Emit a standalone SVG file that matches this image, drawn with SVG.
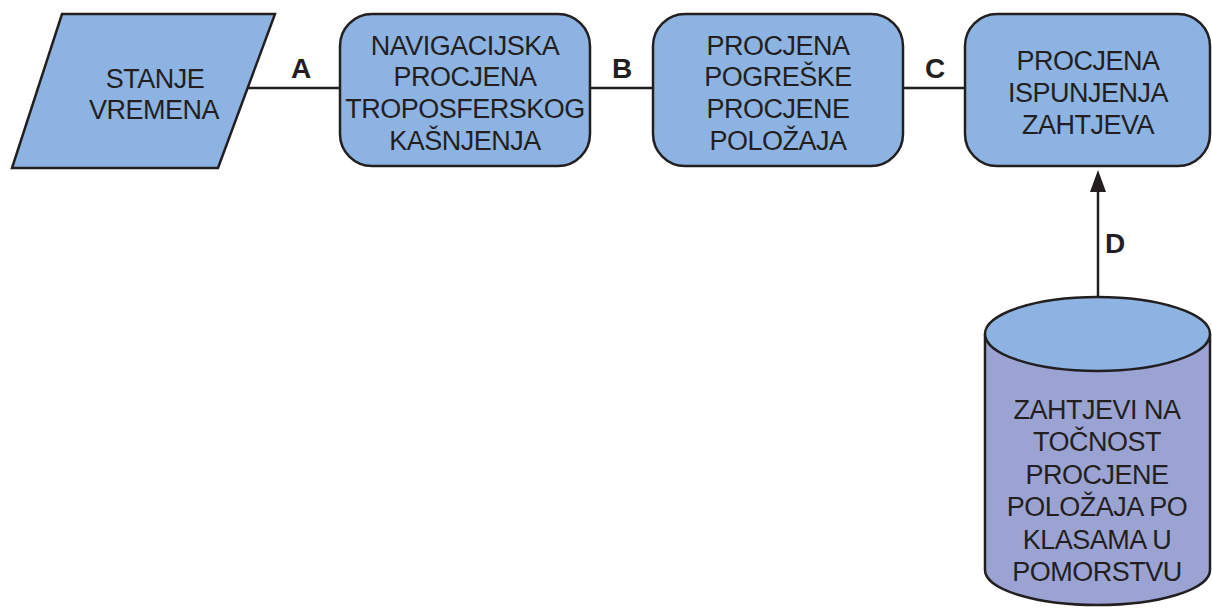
<svg xmlns="http://www.w3.org/2000/svg" width="1212" height="608" viewBox="0 0 1212 608">
<defs>
<style>
.shape{fill:#8db3e2;stroke:#231f20;stroke-width:2.5}
.body{fill:#9ba3d3;stroke:#231f20;stroke-width:2.5}
.t{font-family:"Liberation Sans",Arial,sans-serif;font-size:27px;letter-spacing:-0.5px;fill:#231f20;text-anchor:middle}
.lbl{font-family:"Liberation Sans",Arial,sans-serif;font-size:28px;font-weight:bold;fill:#231f20;text-anchor:middle}
.con{stroke:#231f20;stroke-width:2.5;fill:none}
</style>
</defs>
<rect width="1212" height="608" fill="#ffffff"/>
<g id="connectors">
<line class="con" x1="245" y1="88" x2="340" y2="88"/>
<line class="con" x1="590" y1="88" x2="653" y2="88"/>
<line class="con" x1="903" y1="88" x2="965" y2="88"/>
<line class="con" x1="1098" y1="297" x2="1098" y2="190"/>
<path d="M1098,170 L1106,192 L1090,192 Z" fill="#231f20"/>
<text class="lbl" x="301" y="78">A</text>
<text class="lbl" x="622" y="78">B</text>
<text class="lbl" x="935" y="78">C</text>
<text class="lbl" x="1115" y="253">D</text>
</g>
<g id="stanje">
<polygon class="shape" points="62,14 275,14 218,168 12,168"/>
<text class="t" x="155" y="88">STANJE</text>
<text class="t" x="154" y="119">VREMENA</text>
</g>
<g id="navigacijska">
<rect class="shape" x="340" y="14" width="250" height="152" rx="32" ry="32"/>
<text class="t" x="465" y="55">NAVIGACIJSKA</text>
<text class="t" x="465" y="86">PROCJENA</text>
<text class="t" x="465" y="118">TROPOSFERSKOG</text>
<text class="t" x="465" y="150">KAŠNJENJA</text>
</g>
<g id="pogreske">
<rect class="shape" x="653" y="14" width="250" height="152" rx="32" ry="32"/>
<text class="t" x="778" y="55">PROCJENA</text>
<text class="t" x="778" y="86">POGREŠKE</text>
<text class="t" x="778" y="118">PROCJENE</text>
<text class="t" x="778" y="150">POLOŽAJA</text>
</g>
<g id="ispunjenja">
<rect class="shape" x="965" y="14" width="245" height="152" rx="32" ry="32"/>
<text class="t" x="1088" y="70">PROCJENA</text>
<text class="t" x="1088" y="102">ISPUNJENJA</text>
<text class="t" x="1088" y="134">ZAHTJEVA</text>
</g>
<g id="zahtjevi">
<path class="body" d="M985,334 L985,570 A112.5,35 0 0 0 1210,570 L1210,334"/>
<ellipse class="shape" cx="1097.5" cy="334" rx="112.5" ry="37"/>
<text class="t" x="1097" y="419">ZAHTJEVI NA</text>
<text class="t" x="1097" y="451">TOČNOST</text>
<text class="t" x="1097" y="484">PROCJENE</text>
<text class="t" x="1097" y="516">POLOŽAJA PO</text>
<text class="t" x="1097" y="549">KLASAMA U</text>
<text class="t" x="1097" y="581">POMORSTVU</text>
</g>
</svg>
